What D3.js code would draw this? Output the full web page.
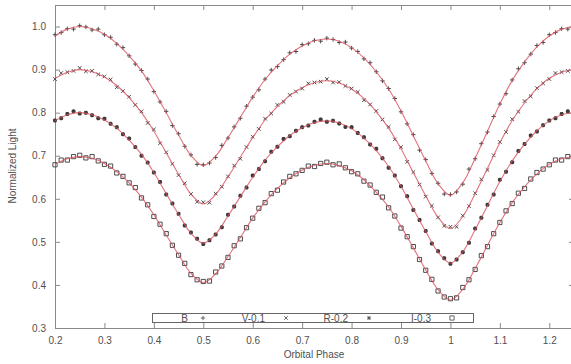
<!DOCTYPE html>
<html>
<head>
<meta charset="utf-8">
<script src="https://cdn.jsdelivr.net/npm/d3@7"></script>
<style>
  html, body { margin: 0; padding: 0; background: #fff; }
  svg { display: block; font-family: "Liberation Sans", Arial, sans-serif; }
</style>
</head>
<body>
<svg id="chart" width="571" height="364"></svg>
<script>
// ---------------- DATA ----------------
const xTicks = [0.2, 0.3, 0.4, 0.5, 0.6, 0.7, 0.8, 0.9, 1.0, 1.1, 1.2];
const yTicks = [0.3, 0.4, 0.5, 0.6, 0.7, 0.8, 0.9, 1.0];
const seriesNames = ["B", "V-0.1", "R-0.2", "I-0.3"];

const obsPhase = [
  0.2, 0.2125, 0.225, 0.2375, 0.25, 0.2625, 0.275, 0.2875, 0.3, 0.3125,
  0.325, 0.3375, 0.35, 0.3625, 0.375, 0.3875, 0.4, 0.4125, 0.425, 0.4375,
  0.45, 0.4625, 0.475, 0.4875, 0.5, 0.5125, 0.525, 0.5375, 0.55, 0.5625,
  0.575, 0.5875, 0.6, 0.6125, 0.625, 0.6375, 0.65, 0.6625, 0.675, 0.6875,
  0.7, 0.7125, 0.725, 0.7375, 0.75, 0.7625, 0.775, 0.7875, 0.8, 0.8125,
  0.825, 0.8375, 0.85, 0.8625, 0.875, 0.8875, 0.9, 0.9125, 0.925, 0.9375,
  0.95, 0.9625, 0.975, 0.9875, 1.0, 1.0125, 1.025, 1.0375, 1.05, 1.0625,
  1.075, 1.0875, 1.1, 1.1125, 1.125, 1.1375, 1.15, 1.1625, 1.175, 1.1875,
  1.2, 1.2125, 1.225, 1.2375, 1.25
];

const obsB = [
  0.981, 0.986, 0.995, 0.994, 1.002, 0.999, 0.992, 0.994, 0.981, 0.975,
  0.959, 0.951, 0.932, 0.913, 0.898, 0.878, 0.849, 0.825, 0.803, 0.770,
  0.751, 0.722, 0.702, 0.680, 0.679, 0.683, 0.696, 0.724, 0.741, 0.767,
  0.787, 0.815, 0.836, 0.853, 0.878, 0.899, 0.907, 0.923, 0.939, 0.942,
  0.958, 0.960, 0.968, 0.966, 0.973, 0.970, 0.963, 0.964, 0.950, 0.942,
  0.925, 0.916, 0.895, 0.874, 0.856, 0.833, 0.802, 0.774, 0.749, 0.713,
  0.691, 0.659, 0.636, 0.611, 0.610, 0.616, 0.634, 0.669, 0.693, 0.728,
  0.755, 0.791, 0.820, 0.844, 0.876, 0.902, 0.916, 0.936, 0.956, 0.963,
  0.981, 0.986, 0.995, 0.994, 1.002
];
const obsV = [
  0.878, 0.892, 0.894, 0.897, 0.904, 0.896, 0.897, 0.889, 0.884, 0.877,
  0.859, 0.850, 0.837, 0.818, 0.803, 0.776, 0.761, 0.729, 0.708, 0.681,
  0.655, 0.636, 0.611, 0.593, 0.592, 0.591, 0.612, 0.628, 0.652, 0.677,
  0.693, 0.720, 0.744, 0.762, 0.786, 0.798, 0.818, 0.825, 0.841, 0.849,
  0.856, 0.868, 0.870, 0.872, 0.878, 0.870, 0.871, 0.862, 0.856, 0.848,
  0.829, 0.819, 0.804, 0.784, 0.767, 0.738, 0.720, 0.686, 0.662, 0.633,
  0.605, 0.584, 0.557, 0.537, 0.535, 0.535, 0.561, 0.583, 0.613, 0.645,
  0.667, 0.701, 0.732, 0.755, 0.785, 0.802, 0.827, 0.838, 0.857, 0.868,
  0.878, 0.892, 0.894, 0.897, 0.904
];
const obsR = [
  0.782, 0.787, 0.797, 0.803, 0.798, 0.800, 0.794, 0.787, 0.786, 0.774,
  0.766, 0.750, 0.740, 0.720, 0.700, 0.684, 0.661, 0.639, 0.610, 0.589,
  0.565, 0.538, 0.522, 0.507, 0.495, 0.504, 0.517, 0.534, 0.563, 0.582,
  0.607, 0.626, 0.654, 0.669, 0.687, 0.709, 0.721, 0.739, 0.745, 0.758,
  0.766, 0.770, 0.779, 0.784, 0.779, 0.781, 0.775, 0.767, 0.766, 0.753,
  0.743, 0.726, 0.716, 0.694, 0.672, 0.654, 0.629, 0.606, 0.574, 0.551,
  0.525, 0.496, 0.478, 0.462, 0.449, 0.459, 0.476, 0.498, 0.531, 0.556,
  0.586, 0.610, 0.644, 0.663, 0.685, 0.711, 0.727, 0.747, 0.756, 0.771,
  0.782, 0.787, 0.797, 0.803, 0.798
];
const obsI = [
  0.679, 0.690, 0.690, 0.698, 0.701, 0.695, 0.698, 0.688, 0.680, 0.676,
  0.660, 0.652, 0.637, 0.626, 0.602, 0.586, 0.559, 0.541, 0.519, 0.492,
  0.469, 0.450, 0.424, 0.412, 0.408, 0.409, 0.430, 0.444, 0.464, 0.491,
  0.507, 0.533, 0.555, 0.578, 0.591, 0.612, 0.620, 0.639, 0.652, 0.658,
  0.666, 0.676, 0.675, 0.682, 0.685, 0.679, 0.681, 0.672, 0.663, 0.658,
  0.641, 0.632, 0.615, 0.604, 0.579, 0.560, 0.532, 0.512, 0.489, 0.459,
  0.434, 0.413, 0.386, 0.372, 0.368, 0.370, 0.394, 0.412, 0.436, 0.468,
  0.489, 0.519, 0.545, 0.572, 0.589, 0.613, 0.624, 0.646, 0.661, 0.669,
  0.679, 0.690, 0.690, 0.698, 0.701
];

const modelPhase = [
  0.2, 0.225, 0.25, 0.275, 0.3, 0.325, 0.35, 0.375, 0.4, 0.425,
  0.45, 0.475, 0.5, 0.525, 0.55, 0.575, 0.6, 0.625, 0.65, 0.675,
  0.7, 0.725, 0.75, 0.775, 0.8, 0.825, 0.85, 0.875, 0.9, 0.925,
  0.95, 0.975, 1.0, 1.025, 1.05, 1.075, 1.1, 1.125, 1.15, 1.175,
  1.2, 1.225, 1.25
];
const modelB = [
  0.978, 0.994, 1.000, 0.995, 0.982, 0.961, 0.932, 0.897, 0.851, 0.800,
  0.748, 0.701, 0.677, 0.699, 0.742, 0.789, 0.836, 0.877, 0.909, 0.936,
  0.955, 0.967, 0.971, 0.966, 0.951, 0.927, 0.895, 0.855, 0.804, 0.746,
  0.688, 0.635, 0.608, 0.637, 0.694, 0.757, 0.820, 0.875, 0.918, 0.953,
  0.978, 0.994, 1.000
];
const modelV = [
  0.880, 0.894, 0.900, 0.895, 0.883, 0.863, 0.835, 0.800, 0.757, 0.707,
  0.657, 0.611, 0.588, 0.610, 0.651, 0.697, 0.742, 0.783, 0.814, 0.840,
  0.858, 0.870, 0.874, 0.869, 0.855, 0.833, 0.802, 0.764, 0.716, 0.661,
  0.607, 0.557, 0.531, 0.559, 0.612, 0.671, 0.730, 0.782, 0.823, 0.856,
  0.880, 0.894, 0.900
];
const modelR = [
  0.781, 0.795, 0.800, 0.795, 0.783, 0.764, 0.736, 0.703, 0.661, 0.612,
  0.564, 0.520, 0.497, 0.518, 0.560, 0.605, 0.650, 0.690, 0.721, 0.747,
  0.765, 0.777, 0.781, 0.776, 0.763, 0.741, 0.712, 0.675, 0.629, 0.576,
  0.524, 0.476, 0.451, 0.477, 0.528, 0.584, 0.640, 0.688, 0.727, 0.758,
  0.781, 0.795, 0.800
];
const modelI = [
  0.680, 0.693, 0.698, 0.694, 0.682, 0.663, 0.637, 0.604, 0.563, 0.516,
  0.470, 0.427, 0.405, 0.426, 0.466, 0.510, 0.555, 0.593, 0.624, 0.649,
  0.667, 0.678, 0.682, 0.677, 0.665, 0.644, 0.615, 0.581, 0.536, 0.486,
  0.435, 0.389, 0.365, 0.390, 0.438, 0.492, 0.545, 0.591, 0.628, 0.658,
  0.680, 0.693, 0.698
];

// ---------------- DRAWING ----------------
(function () {
const plotLeft = 55, plotRight = 574, plotTop = 5, plotBottom = 328;
const svg = d3.select("#chart");

const x = d3.scaleLinear().domain([0.2, 1.25]).range([plotLeft, plotRight]);
const y = d3.scaleLinear().domain([0.3, 1.05]).range([plotBottom, plotTop]);

const frameColor = "#8a8a8a";
const textColor = "#505050";
const markColor = "#3a3a3a";
const lineColor = "#d9505c";

const obsSets = [obsB, obsV, obsR, obsI];
const modelSets = [modelB, modelV, modelR, modelI];
const markerPaths = [
  "M-2.2,0H2.2M0,-2.2V2.2",
  "M-1.8,-1.8L1.8,1.8M-1.8,1.8L1.8,-1.8",
  "M-2,0H2M0,-2V2M-1.5,-1.5L1.5,1.5M-1.5,1.5L1.5,-1.5",
  "M-2.1,-2.1H2.1V2.1H-2.1Z"
];

const gx = svg.append("g").attr("transform", `translate(0,${plotBottom})`)
  .call(d3.axisBottom(x).tickValues(xTicks).tickFormat(d3.format("~g"))
    .tickSizeInner(-5).tickSizeOuter(0).tickPadding(9));
const gxt = svg.append("g").attr("transform", `translate(0,${plotTop})`)
  .call(d3.axisTop(x).tickValues(xTicks).tickFormat("")
    .tickSizeInner(-5).tickSizeOuter(0));
const gy = svg.append("g").attr("transform", `translate(${plotLeft},0)`)
  .call(d3.axisLeft(y).tickValues(yTicks).tickFormat(d3.format(".1f"))
    .tickSizeInner(-5).tickSizeOuter(0).tickPadding(9));
const gyr = svg.append("g").attr("transform", `translate(${plotRight},0)`)
  .call(d3.axisRight(y).tickValues(yTicks).tickFormat("")
    .tickSizeInner(-5).tickSizeOuter(0));

[gx, gxt, gy, gyr].forEach(g => {
  g.select(".domain").remove();
  g.selectAll(".tick line").attr("stroke", frameColor).attr("stroke-width", 1);
  g.selectAll(".tick text").attr("fill", textColor)
    .style("font-size", "10px").style("font-family", "Liberation Sans, Arial, sans-serif");
});

svg.append("rect")
  .attr("x", plotLeft + 0.5).attr("y", plotTop + 0.5)
  .attr("width", plotRight - plotLeft).attr("height", plotBottom - plotTop)
  .attr("fill", "none").attr("stroke", frameColor).attr("stroke-width", 1);

const plot = svg.append("g");

obsSets.forEach((vals, si) => {
  plot.append("g").selectAll("path")
    .data(vals)
    .join("path")
    .attr("transform", (d, i) => `translate(${x(obsPhase[i])},${y(d)})`)
    .attr("d", markerPaths[si])
    .attr("fill", "none")
    .attr("stroke", markColor)
    .attr("stroke-width", si === 2 ? 1.4 : 0.9);
});

const line = d3.line()
  .x((d, i) => x(modelPhase[i]))
  .y(d => y(d))
  .curve(d3.curveCatmullRom.alpha(0.5));
modelSets.forEach(vals => {
  plot.append("path")
    .attr("d", line(vals))
    .attr("fill", "none")
    .attr("stroke", lineColor)
    .attr("stroke-opacity", 0.8)
    .attr("stroke-width", 1.1);
});

const lg = svg.append("g");
lg.append("rect")
  .attr("x", 152.5).attr("y", 313.5).attr("width", 321).attr("height", 9)
  .attr("fill", "#fff").attr("stroke", "#666").attr("stroke-width", 1);
const legendSym = seriesNames.map((n, i) => 203 + 83 * i);
seriesNames.forEach((name, i) => {
  lg.append("text")
    .attr("x", legendSym[i] - (i === 0 ? 15 : 21))
    .attr("y", 321.5)
    .attr("text-anchor", "end")
    .attr("fill", textColor)
    .style("font-size", "10px")
    .text(name);
  lg.append("path")
    .attr("transform", `translate(${legendSym[i]},318)`)
    .attr("d", markerPaths[i])
    .attr("fill", "none")
    .attr("stroke", "#555")
    .attr("stroke-width", 0.9);
});

svg.append("text")
  .attr("x", 314).attr("y", 358)
  .attr("text-anchor", "middle")
  .attr("fill", textColor)
  .style("font-size", "10px")
  .text("Orbital Phase");
svg.append("text")
  .attr("transform", "translate(16,166) rotate(-90)")
  .attr("text-anchor", "middle")
  .attr("fill", textColor)
  .style("font-size", "10px")
  .text("Normalized Light");
})();
</script>
</body>
</html>
